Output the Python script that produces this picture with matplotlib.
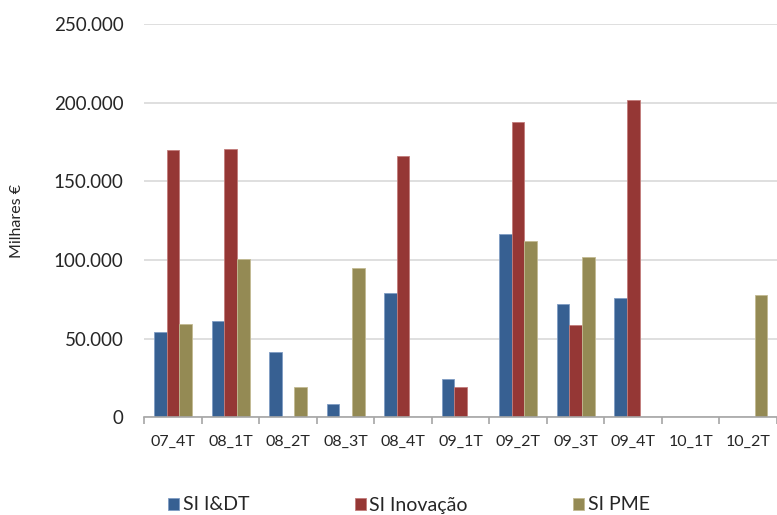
import matplotlib
matplotlib.use("Agg")
import matplotlib.pyplot as plt
import numpy as np
from matplotlib.ticker import FuncFormatter, FixedLocator

categories = ["07_4T", "08_1T", "08_2T", "08_3T", "08_4T", "09_1T",
              "09_2T", "09_3T", "09_4T", "10_1T", "10_2T"]
si_idt = [54200, 61200, 41300, 8300, 79000, 24500, 116300, 71800, 75800, 0, 0]
si_inov = [169600, 170500, 0, 0, 166000, 19500, 188000, 58400, 202000, 0, 0]
si_pme = [59300, 100400, 19300, 94900, 0, 0, 112000, 101600, 0, 0, 77500]
series_names = ["SI I&DT", "SI Inovação", "SI PME"]
colors = ["#376092", "#953735", "#948A54"]
edge_colors = ["#7F9CC4", "#C27C7A", "#C2BA92"]

plt.rcParams['font.family'] = ['Lato', 'DejaVu Sans']
text_color = "#262626"

fig = plt.figure(figsize=(7.77, 5.15), dpi=100)
ax = fig.add_axes([144.3 / 777, 1 - 417.3 / 515, 1 - 144.3 / 777, (417.3 - 24) / 515])

x = np.arange(len(categories))
w = 0.22
for i, vals in enumerate([si_idt, si_inov, si_pme]):
    ax.bar(x + (i - 1) * w, vals, width=w, color=colors[i], edgecolor=edge_colors[i],
           linewidth=0.6, label=series_names[i], zorder=3)

ax.set_xlim(-0.5, len(categories) - 0.5)
ax.set_ylim(0, 250000)
ax.set_yticks(np.arange(0, 250001, 50000))
ax.yaxis.set_major_formatter(FuncFormatter(lambda v, p: f"{int(v):,}".replace(",", ".")))
ax.grid(axis='y', color="#D9D9D9", linewidth=1.2, zorder=0)
ax.set_axisbelow(True)

for s in ["left", "right", "top"]:
    ax.spines[s].set_visible(False)
ax.spines["bottom"].set_color("#A6A6A6")
ax.spines["bottom"].set_linewidth(1.2)
ax.spines["bottom"].set_zorder(4)

ax.set_xticks(x)
ax.set_xticklabels(categories)
ax.xaxis.set_minor_locator(FixedLocator(np.arange(-0.5, len(categories), 1.0)))
ax.tick_params(axis='x', which='major', length=0, pad=13, labelsize=11.5, labelcolor=text_color)
ax.tick_params(axis='x', which='minor', length=5, width=1.2, color="#A6A6A6", direction='out')
ax.tick_params(axis='y', length=0, pad=15, labelsize=13.5, labelcolor=text_color)

ax.set_ylabel("Milhares €", fontsize=11.5, color=text_color)
ax.yaxis.set_label_coords(-(144.3 - 17) / (777 - 144.3), 0.5)
ax.yaxis.label.set_verticalalignment('center')

fig.legend(loc='center', bbox_to_anchor=(409 / 777, 1 - 505 / 515), ncol=3,
           frameon=False, fontsize=14, handlelength=0.57, handleheight=0.57,
           handletextpad=0.2, columnspacing=5.4, labelcolor=text_color,
           borderpad=0, borderaxespad=0)

fig.savefig("out.png", dpi=100)
